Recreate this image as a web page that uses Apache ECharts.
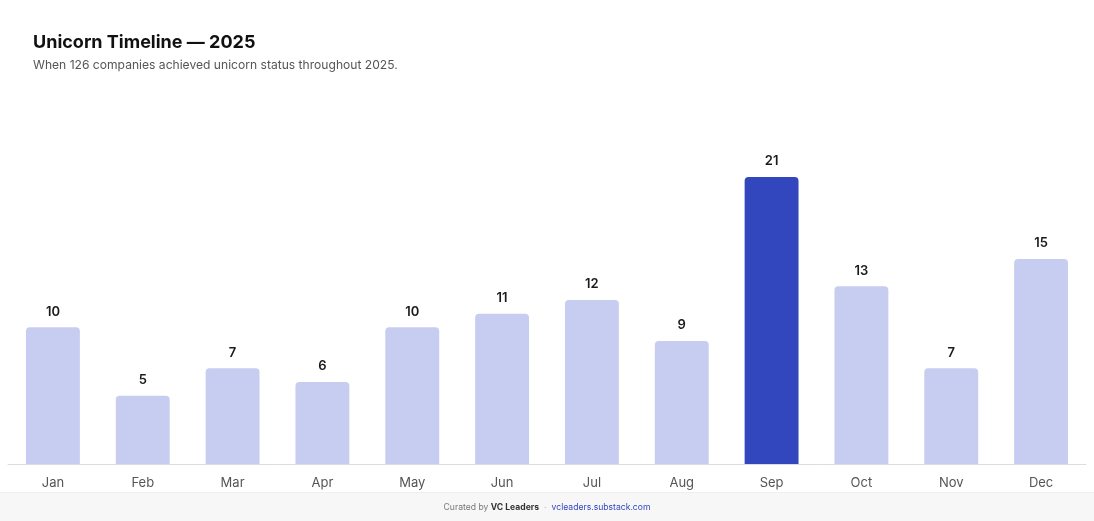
<!DOCTYPE html>
<html>
<head>
<meta charset="utf-8">
<script src="https://cdn.jsdelivr.net/npm/echarts@6/dist/echarts.min.js"></script>
<style>
html,body{margin:0;padding:0;background:#fff;}
#chart{width:1094px;height:521px;}
</style>
</head>
<body>
<div id="chart"></div>
<script>
const months = ['Jan','Feb','Mar','Apr','May','Jun','Jul','Aug','Sep','Oct','Nov','Dec'];
const unicorns = [10,5,7,6,10,11,12,9,21,13,7,15];
const highlightMonth = 'Sep';

const chart = echarts.init(document.getElementById('chart'), null, {renderer:'canvas'});
const FONT = 'Inter, "Noto Sans", sans-serif';
chart.setOption({
  animation:false,
  backgroundColor:'#ffffff',
  textStyle:{fontFamily:FONT},
  title:{
    left:33, top:34, padding:0,
    text:'Unicorn Timeline — 2025',
    subtext:'When 126 companies achieved unicorn status throughout 2025.',
    itemGap:7,
    textStyle:{fontFamily:FONT,fontSize:18,fontWeight:700,color:'#111111'},
    subtextStyle:{fontFamily:FONT,fontSize:12.1,color:'#555555'}
  },
  grid:{left:8,right:8,top:177,bottom:57,containLabel:false},
  xAxis:{
    type:'category',
    data:months,
    axisLine:{lineStyle:{color:'#dddddd',width:1}},
    axisTick:{show:false},
    axisLabel:{color:'#555555',fontSize:13,margin:13,fontFamily:FONT}
  },
  yAxis:{
    type:'value',min:0,max:21,
    show:false,
    splitLine:{show:false}
  },
  series:[{
    type:'bar',
    barWidth:'60%',
    data:unicorns.map((v,i)=>({
      value:v,
      itemStyle:{color: months[i]===highlightMonth ? '#3247bd' : '#c7cdf0', borderRadius:[4,4,0,0]}
    })),
    label:{show:true,position:'top',distance:9,color:'#1a1a1a',fontSize:13,fontWeight:600,fontFamily:FONT}
  }],
  graphic:[
    {type:'rect',left:0,top:493,shape:{width:1094,height:28},style:{fill:'#f7f7f7'},silent:true},
    {type:'line',shape:{x1:0,y1:492.5,x2:1094,y2:492.5},style:{stroke:'#efefef',lineWidth:1},silent:true},
    {type:'text',x:547,y:507.5,
      style:{
        text:'{a|Curated by }{b|VC Leaders}{c|·}{d|vcleaders.substack.com}',
        align:'center',verticalAlign:'middle',
        rich:{
          a:{fontFamily:FONT,fontSize:8.6,fill:'#777777'},
          b:{fontFamily:FONT,fontSize:8.6,fontWeight:700,fill:'#333333'},
          c:{fontFamily:FONT,fontSize:8.6,fill:'#a0a6c8',padding:[0,5,0,5]},
          d:{fontFamily:FONT,fontSize:8.6,fill:'#3346c0'}
        }
      },silent:true}
  ]
});
</script>
</body>
</html>
